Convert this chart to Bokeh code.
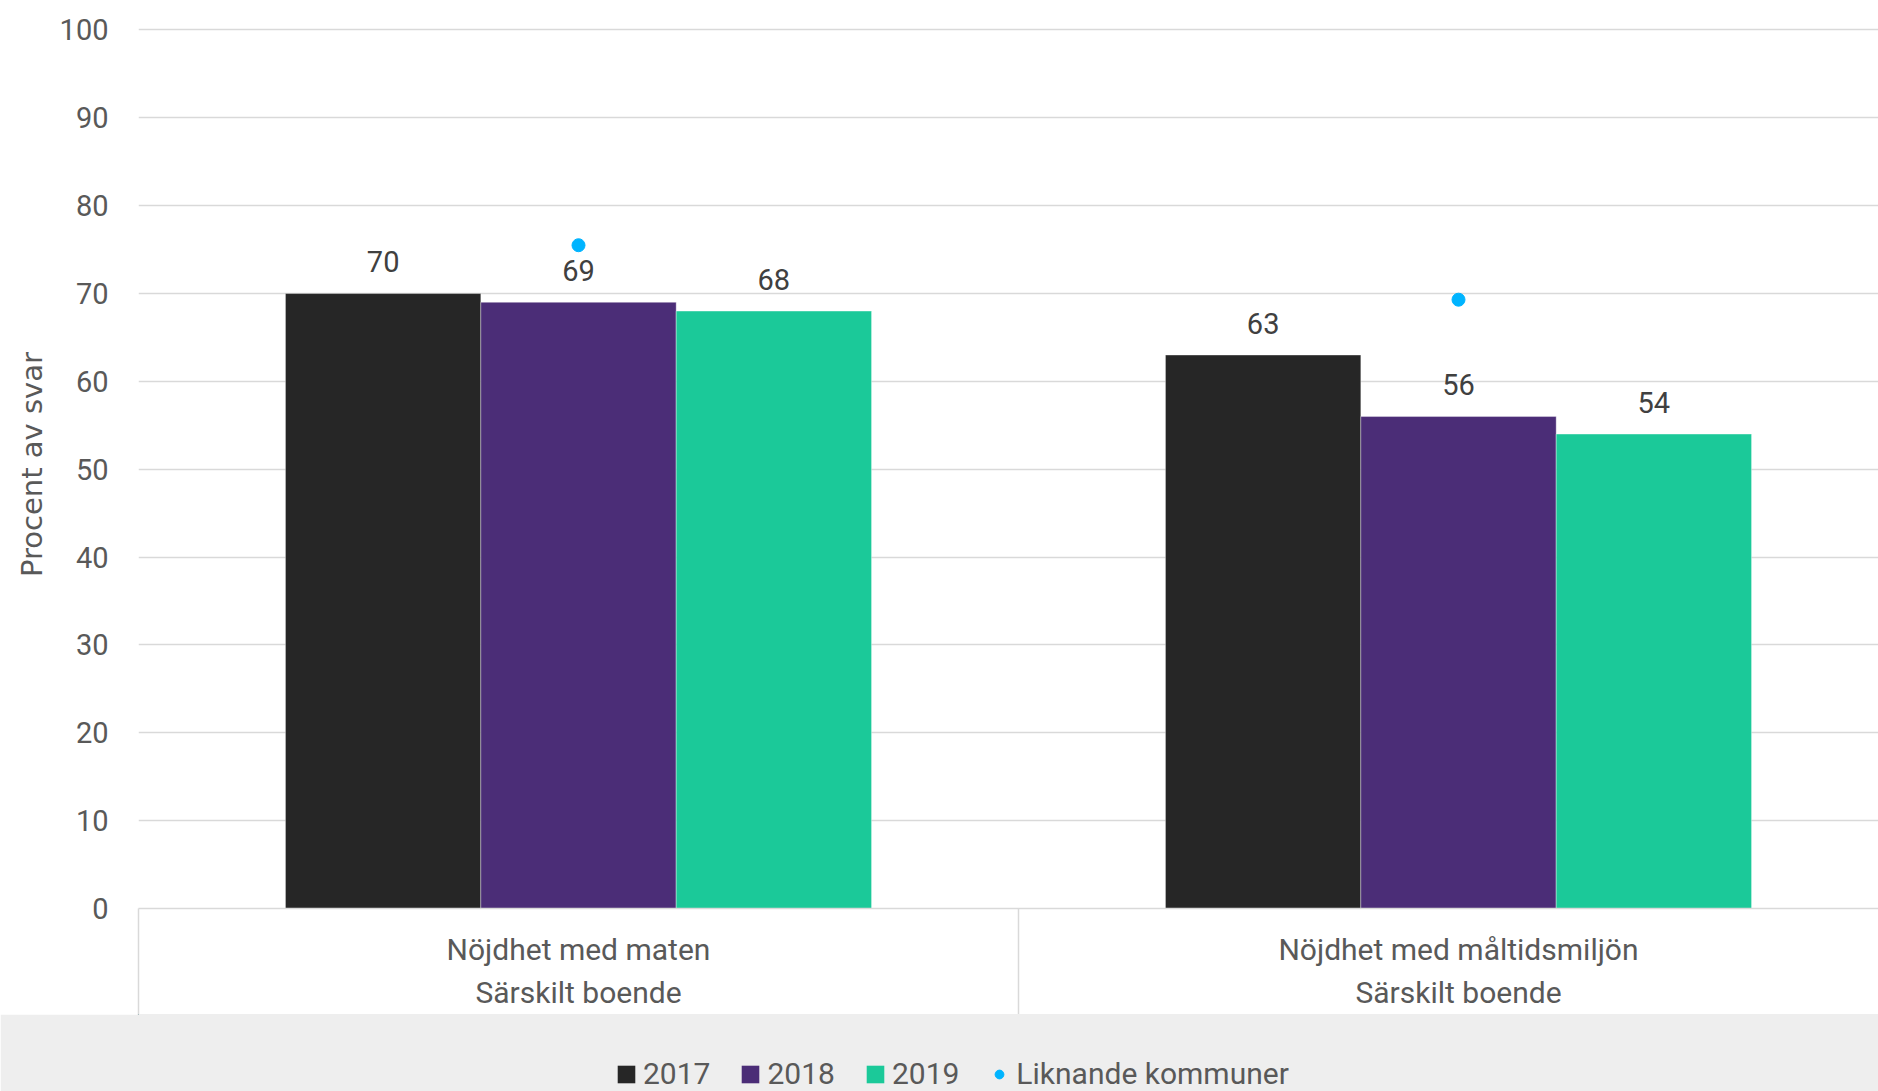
from bokeh.plotting import figure
from bokeh.layouts import column
from bokeh.models import (ColumnDataSource, FixedTicker, Range1d, Legend, LegendItem)
from bokeh.transform import dodge
from bokeh.embed import file_html
from bokeh.resources import INLINE
from bokeh.core.properties import value

# ---- data ----
categories = ["Nöjdhet med maten", "Nöjdhet med måltidsmiljön"]
groups = ["Särskilt boende", "Särskilt boende"]
years = ["2017", "2018", "2019"]
v2017 = [70, 63]
v2018 = [69, 56]
v2019 = [68, 54]
liknande = [75.5, 69.3]
y_ticks = [0, 10, 20, 30, 40, 50, 60, 70, 80, 90, 100]

FONT = "Roboto"
TICK_COLOR = "#595959"
LABEL_COLOR = "#404040"
GRID = "#D9D9D9"
BAND = "#EEEEEE"
COLORS = ["#262626", "#4B2D77", "#1BC999"]
DOT = "#00B4FF"

xpos = [i + 0.5 for i in range(len(categories))]
src = ColumnDataSource(dict(
    x=xpos,
    v2017=v2017, v2018=v2018, v2019=v2019, lik=liknande,
    t2017=[str(v) for v in v2017], t2018=[str(v) for v in v2018],
    t2019=[str(v) for v in v2019],
))

W = 1878
H1 = 1014
H2 = 77
LEFT = 138
bw = 0.222
offsets = [-bw, 0.0, bw]

# ---------------- main chart ----------------
p = figure(width=W, height=H1, output_backend="svg", toolbar_location=None,
           x_range=Range1d(0, (W - LEFT) / 880), y_range=Range1d(0, 101.08),
           min_border_left=LEFT, min_border_top=20, min_border_bottom=106,
           min_border_right=0)
p.outline_line_color = None
p.border_fill_color = "white"

for yr, col, off in zip(years, COLORS, offsets):
    p.vbar(x=dodge("x", off, range=p.x_range), top="v" + yr, width=bw,
           source=src, fill_color=col, line_color="white", line_alpha=0.35,
           line_width=1)
    p.text(x=dodge("x", off, range=p.x_range), y="v" + yr, text="t" + yr,
           source=src, text_align="center", text_baseline="middle",
           y_offset=-32, text_font=value(FONT), text_font_size="29px",
           text_color=LABEL_COLOR)

p.scatter(x="x", y="lik", source=src, size=13, color=DOT)

p.yaxis.ticker = FixedTicker(ticks=y_ticks)
p.yaxis.axis_line_color = None
p.yaxis.major_tick_line_color = None
p.yaxis.minor_tick_line_color = None
p.yaxis.major_tick_out = 0
p.yaxis.major_label_standoff = 30
p.yaxis.major_label_text_font = FONT
p.yaxis.major_label_text_font_size = "29px"
p.yaxis.major_label_text_color = TICK_COLOR
p.yaxis.axis_label = "Procent av svar"
p.yaxis.axis_label_text_font = "DejaVu Sans"
p.yaxis.axis_label_text_font_size = "29px"
p.yaxis.axis_label_text_font_style = "normal"
p.yaxis.axis_label_text_color = TICK_COLOR
p.yaxis.axis_label_standoff = 8

p.xaxis.ticker = FixedTicker(ticks=xpos, minor_ticks=[0, 1, 2])
p.xaxis.major_label_overrides = {x: f"{c}\n{g}" for x, c, g in zip(xpos, categories, groups)}
p.xaxis.axis_line_color = GRID
p.xaxis.axis_line_width = 1.5
p.xaxis.major_tick_line_color = None
p.xaxis.major_tick_out = 0
p.xaxis.major_tick_in = 0
p.xaxis.minor_tick_out = 106
p.xaxis.minor_tick_in = 0
p.xaxis.minor_tick_line_color = GRID
p.xaxis.minor_tick_line_width = 1.5
p.xaxis.major_label_standoff = -83
p.xaxis.major_label_text_font = FONT
p.xaxis.major_label_text_font_size = "30px"
p.xaxis.major_label_text_color = TICK_COLOR
p.xaxis.major_label_text_line_height = 1.23

p.xgrid.visible = False
p.ygrid.ticker = FixedTicker(ticks=y_ticks)
p.ygrid.grid_line_color = GRID
p.ygrid.grid_line_width = 1.5

# ---------------- legend band ----------------
q = figure(width=W, height=H2, output_backend="svg", toolbar_location=None,
           x_range=Range1d(100, 101), y_range=Range1d(-1000, -999),
           min_border=0)
q.axis.visible = False
q.grid.visible = False
q.outline_line_color = BAND
q.outline_line_width = 3
q.background_fill_color = BAND
q.border_fill_color = BAND

leg_r = []
for yr, col in zip(years, COLORS):
    leg_r.append(q.vbar(x="x", top="v" + yr, width=bw, source=src,
                        fill_color=col, line_color=None))
leg_r.append(q.scatter(x="x", y="lik", source=src, size=13, color=DOT))

legend = Legend(
    items=[LegendItem(label=lbl, renderers=[r])
           for lbl, r in zip(years + ["Liknande kommuner"], leg_r)],
    location=(477, 0), orientation="horizontal",
    glyph_width=22, glyph_height=22, label_standoff=6, spacing=29,
    padding=0, margin=0, background_fill_alpha=0, border_line_color=None,
    label_text_font=FONT, label_text_font_size="30px",
    label_text_color=TICK_COLOR,
)
q.add_layout(legend)

layout = column(p, q, spacing=0)
open("out.html", "w").write(file_html(layout, INLINE))
